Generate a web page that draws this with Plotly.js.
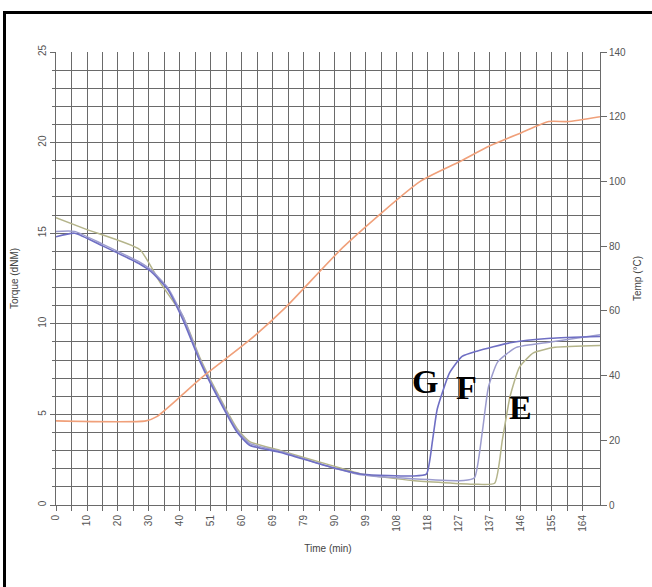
<!DOCTYPE html>
<html><head><meta charset="utf-8">
<script src="https://cdn.plot.ly/plotly-3.0.1.min.js"></script>
<style>
html,body{margin:0;padding:0;background:#fff;overflow:hidden;width:652px;height:587px}
#chart{position:absolute;left:0;top:0;width:652px;height:587px}
#frame{position:absolute;left:3px;top:11px;width:700px;height:700px;border:3px solid #000;pointer-events:none;z-index:5}
</style></head>
<body><div id="chart"></div><div id="frame"></div>
<script>
// Category axis labels (time, min) – one label every two category steps
const timeLabels = ['0','10','20','30','40','51','60','69','79','90','99','108','118','127','137','146','155','164'];

// Torque curves (x in category-step units, y in torque)
const gX = [0, 1.2, 3, 5.4, 6.1, 7.2, 8.2, 9.3, 10.4, 11.7, 12.5, 14.5, 17.7, 19.8, 23, 23.9, 24.3, 24.6, 25.4, 26.2, 27.2, 29.3, 31.9, 35.1];
const gY = [14.8, 15.0, 14.3, 13.3, 12.9, 11.9, 10.2, 7.9, 6.0, 4.0, 3.3, 2.9, 2.1, 1.7, 1.6, 1.7, 3.6, 5.3, 7.3, 8.2, 8.5, 8.95, 9.2, 9.3];

const fX = [0, 1.2, 3, 5.4, 6.1, 7.2, 8.2, 9.3, 10.4, 11.7, 12.5, 14.5, 17.7, 19.8, 23, 26.3, 27.0, 27.5, 27.9, 28.5, 29.7, 31.9, 35.1];
const fY = [15.1, 15.1, 14.4, 13.4, 13.0, 12.0, 10.4, 8.0, 6.1, 4.1, 3.4, 2.95, 2.1, 1.65, 1.45, 1.35, 1.5, 4.0, 6.5, 7.9, 8.7, 9.0, 9.4];

const eX = [0, 2, 5.4, 6.7, 8.2, 9.3, 10.4, 11.7, 12.5, 14.5, 17.7, 19.8, 23, 27, 28.3, 28.8, 29.3, 29.9, 30.8, 32.2, 35.1];
const eY = [15.85, 15.2, 14.1, 12.3, 10.4, 8.1, 6.2, 4.2, 3.5, 3.0, 2.2, 1.7, 1.35, 1.15, 1.2, 3.6, 6.0, 7.6, 8.4, 8.7, 8.8];

// Temperature curve (°C)
const tX = [0, 5.8, 6.5, 8, 9.3, 12.5, 14.8, 18.6, 23.5, 26, 28, 30, 31.8, 33, 35.1];
const tY = [26, 26, 27.3, 33.4, 39, 51, 61, 80, 100, 106, 111, 115, 118.5, 118.5, 120];

// Curve labels
const curveNames = ['G', 'F', 'E'];
const labelX = [23.8, 26.5, 30.0];
const labelY = [6.8, 6.5, 5.4];

const tickVals = [], tickText = [];
for (let i = 0; i <= 34; i++) { tickVals.push(i); tickText.push(i % 2 === 0 ? timeLabels[i / 2] : ''); }

const gridC = '#6a6a6a';
const tickFont = {family: 'Liberation Sans, Arial', size: 10, color: '#555'};

const traces = [
  {x: tX, y: tY, yaxis: 'y2', mode: 'lines', line: {color: '#f0a07a', width: 1.6, shape: 'spline', smoothing: 0.6}, hoverinfo: 'skip'},
  {x: eX, y: eY, mode: 'lines', line: {color: '#b4b48a', width: 1.5, shape: 'spline', smoothing: 0.5}, hoverinfo: 'skip'},
  {x: fX, y: fY, mode: 'lines', line: {color: '#9c9cce', width: 1.5, shape: 'spline', smoothing: 0.5}, hoverinfo: 'skip'},
  {x: gX, y: gY, mode: 'lines', line: {color: '#6f6fc4', width: 1.6, shape: 'spline', smoothing: 0.5}, hoverinfo: 'skip'}
];

const layout = {
  width: 652, height: 587,
  margin: {l: 56, r: 52, t: 52, b: 82},
  paper_bgcolor: 'rgba(0,0,0,0)', plot_bgcolor: '#fff',
  showlegend: false,
  font: tickFont,
  xaxis: {
    range: [0, 35.1], tickmode: 'array', tickvals: tickVals, ticktext: tickText,
    tickangle: -90, ticks: 'outside', ticklen: 5, tickcolor: gridC,
    showgrid: true, gridcolor: gridC, gridwidth: 1,
    showline: true, linecolor: gridC, zeroline: false,
    tickfont: tickFont,
    title: {text: 'Time (min)', font: {family: 'Liberation Sans, Arial', size: 10, color: '#444'}, standoff: 14}
  },
  yaxis: {
    range: [0, 25], tickmode: 'linear', tick0: 0, dtick: 5,
    tickangle: -90, ticks: 'outside', ticklen: 5, tickcolor: gridC,
    showgrid: true, gridcolor: gridC, gridwidth: 1,
    minor: {dtick: 1, showgrid: true, gridcolor: gridC, gridwidth: 1, ticks: 'outside', ticklen: 3, tickcolor: gridC},
    showline: true, linecolor: gridC, zeroline: false,
    tickfont: tickFont,
    title: {text: 'Torque (dNM)', font: {family: 'Liberation Sans, Arial', size: 10, color: '#444'}, standoff: 16}
  },
  yaxis2: {
    overlaying: 'y', side: 'right', range: [0, 140], tickmode: 'linear', tick0: 0, dtick: 20,
    ticks: 'outside', ticklen: 6, tickcolor: gridC, showgrid: false,
    showline: true, linecolor: gridC, zeroline: false,
    tickfont: tickFont,
    title: {text: 'Temp (°C)', font: {family: 'Liberation Sans, Arial', size: 10, color: '#444'}, standoff: 8}
  },
  annotations: curveNames.map((n, i) => ({
    x: labelX[i], y: labelY[i], xref: 'x', yref: 'y', text: '<b>' + n + '</b>', showarrow: false,
    font: {family: 'Liberation Serif, Times New Roman', size: 34, color: '#000'}
  }))
};

Plotly.newPlot('chart', traces, layout, {staticPlot: true, displayModeBar: false});
</script>
</body></html>
